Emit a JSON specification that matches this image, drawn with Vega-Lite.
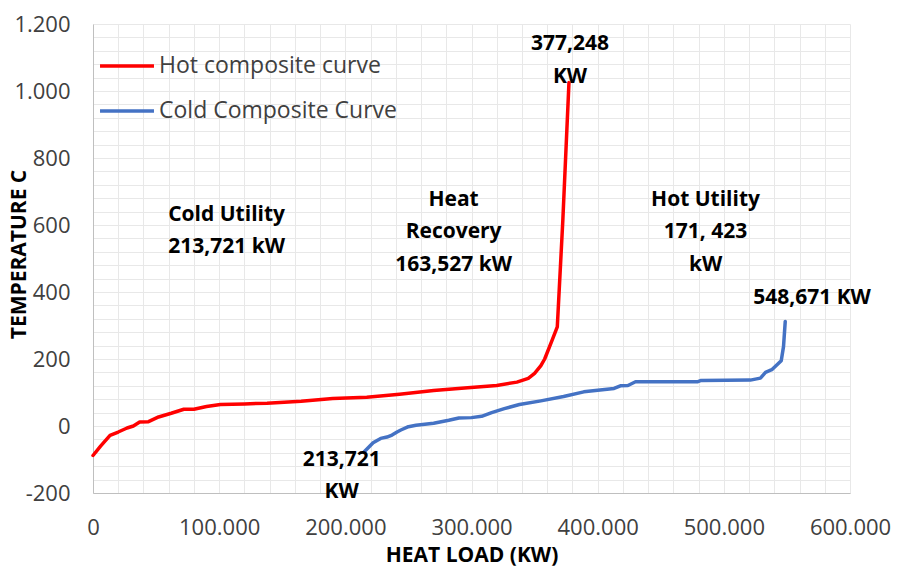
{
  "$schema": "https://vega.github.io/schema/vega-lite/v6.json",
  "width": 757,
  "height": 469,
  "autosize": {"type": "none"},
  "padding": {"left": 93, "top": 24, "right": 48, "bottom": 74},
  "background": "white",
  "config": {"view": {"stroke": null}, "font": "Open Sans"},
  "datasets": {
    "curves": [
      {"series": "Hot composite curve", "load": 0, "temp": -88},
      {"series": "Hot composite curve", "load": 6000, "temp": -60},
      {"series": "Hot composite curve", "load": 13500, "temp": -28},
      {"series": "Hot composite curve", "load": 20000, "temp": -18},
      {"series": "Hot composite curve", "load": 27000, "temp": -6},
      {"series": "Hot composite curve", "load": 32000, "temp": 0},
      {"series": "Hot composite curve", "load": 37000, "temp": 12},
      {"series": "Hot composite curve", "load": 44000, "temp": 13},
      {"series": "Hot composite curve", "load": 52000, "temp": 27},
      {"series": "Hot composite curve", "load": 62000, "temp": 38},
      {"series": "Hot composite curve", "load": 72000, "temp": 50},
      {"series": "Hot composite curve", "load": 80000, "temp": 50},
      {"series": "Hot composite curve", "load": 90000, "temp": 58},
      {"series": "Hot composite curve", "load": 101000, "temp": 64},
      {"series": "Hot composite curve", "load": 120000, "temp": 66},
      {"series": "Hot composite curve", "load": 138000, "temp": 68},
      {"series": "Hot composite curve", "load": 165000, "temp": 74},
      {"series": "Hot composite curve", "load": 190000, "temp": 82},
      {"series": "Hot composite curve", "load": 217000, "temp": 86},
      {"series": "Hot composite curve", "load": 243000, "temp": 95},
      {"series": "Hot composite curve", "load": 270000, "temp": 106},
      {"series": "Hot composite curve", "load": 297000, "temp": 114},
      {"series": "Hot composite curve", "load": 320000, "temp": 121},
      {"series": "Hot composite curve", "load": 336000, "temp": 131},
      {"series": "Hot composite curve", "load": 345000, "temp": 142},
      {"series": "Hot composite curve", "load": 350000, "temp": 157},
      {"series": "Hot composite curve", "load": 355000, "temp": 180},
      {"series": "Hot composite curve", "load": 358000, "temp": 200},
      {"series": "Hot composite curve", "load": 364000, "temp": 257},
      {"series": "Hot composite curve", "load": 368000, "temp": 296},
      {"series": "Hot composite curve", "load": 372400, "temp": 615},
      {"series": "Hot composite curve", "load": 377248, "temp": 1025},
      {"series": "Cold Composite Curve", "load": 215000, "temp": -77},
      {"series": "Cold Composite Curve", "load": 222000, "temp": -50},
      {"series": "Cold Composite Curve", "load": 228000, "temp": -37},
      {"series": "Cold Composite Curve", "load": 233000, "temp": -33},
      {"series": "Cold Composite Curve", "load": 237000, "temp": -27},
      {"series": "Cold Composite Curve", "load": 241000, "temp": -18},
      {"series": "Cold Composite Curve", "load": 244000, "temp": -12},
      {"series": "Cold Composite Curve", "load": 250000, "temp": -2},
      {"series": "Cold Composite Curve", "load": 256000, "temp": 2},
      {"series": "Cold Composite Curve", "load": 270000, "temp": 8},
      {"series": "Cold Composite Curve", "load": 282000, "temp": 17},
      {"series": "Cold Composite Curve", "load": 290000, "temp": 24},
      {"series": "Cold Composite Curve", "load": 300000, "temp": 25},
      {"series": "Cold Composite Curve", "load": 308000, "temp": 29},
      {"series": "Cold Composite Curve", "load": 316000, "temp": 40},
      {"series": "Cold Composite Curve", "load": 326000, "temp": 52},
      {"series": "Cold Composite Curve", "load": 338000, "temp": 64},
      {"series": "Cold Composite Curve", "load": 355000, "temp": 75},
      {"series": "Cold Composite Curve", "load": 373000, "temp": 88},
      {"series": "Cold Composite Curve", "load": 389000, "temp": 102},
      {"series": "Cold Composite Curve", "load": 413000, "temp": 112},
      {"series": "Cold Composite Curve", "load": 418000, "temp": 120},
      {"series": "Cold Composite Curve", "load": 424000, "temp": 121},
      {"series": "Cold Composite Curve", "load": 430000, "temp": 132},
      {"series": "Cold Composite Curve", "load": 479000, "temp": 132},
      {"series": "Cold Composite Curve", "load": 482000, "temp": 136},
      {"series": "Cold Composite Curve", "load": 521000, "temp": 137},
      {"series": "Cold Composite Curve", "load": 529000, "temp": 143},
      {"series": "Cold Composite Curve", "load": 533000, "temp": 160},
      {"series": "Cold Composite Curve", "load": 538000, "temp": 168},
      {"series": "Cold Composite Curve", "load": 545500, "temp": 195},
      {"series": "Cold Composite Curve", "load": 547300, "temp": 237},
      {"series": "Cold Composite Curve", "load": 548671, "temp": 312}
    ],
    "notes": [
      {"label": "Cold Utility\n213,721 kW", "load": 105900, "temp": 630},
      {"label": "Heat\nRecovery\n163,527 kW", "load": 285800, "temp": 675},
      {"label": "Hot Utility\n171, 423\nkW", "load": 485500, "temp": 675},
      {"label": "377,248\nKW", "load": 378100, "temp": 1140},
      {"label": "548,671 KW", "load": 569900, "temp": 381},
      {"label": "213,721\nKW", "load": 197100, "temp": -101}
    ]
  },
  "layer": [
    {
      "data": {"name": "curves"},
      "mark": {"type": "line", "strokeWidth": 3.5, "strokeCap": "round", "strokeJoin": "round"},
      "encoding": {
        "x": {
          "field": "load", "type": "quantitative",
          "scale": {"domain": [0, 600000], "nice": false, "zero": false},
          "axis": {
            "title": "HEAT LOAD (KW)",
            "values": [0,20000,40000,60000,80000,100000,120000,140000,160000,180000,200000,220000,240000,260000,280000,300000,320000,340000,360000,380000,400000,420000,440000,460000,480000,500000,520000,540000,560000,580000,600000],
            "tickCount": 100,
            "labelExpr": "datum.value % 100000 === 0 ? (datum.value === 0 ? '0' : replace(format(datum.value, ','), ',', '.')) : ''",
            "labelOverlap": false,
            "labelFlush": false,
            "ticks": false,
            "labelPadding": 24,
            "labelFontSize": 22,
            "labelColor": "#404040",
            "labelFont": "Open Sans",
            "grid": true,
            "gridColor": "#e8e8e8",
            "gridWidth": 1,
            "domainColor": "#bfbfbf",
            "titleFontSize": 21,
            "titleFontWeight": "bold",
            "titleColor": "#000000",
            "titleFont": "Open Sans",
            "titleBaseline": "middle",
            "titleY": 62
          }
        },
        "y": {
          "field": "temp", "type": "quantitative",
          "scale": {"domain": [-200, 1200], "nice": false, "zero": false},
          "axis": {
            "title": "TEMPERATURE C",
            "values": [-200,-160,-120,-80,-40,0,40,80,120,160,200,240,280,320,360,400,440,480,520,560,600,640,680,720,760,800,840,880,920,960,1000,1040,1080,1120,1160,1200],
            "tickCount": 100,
            "labelExpr": "datum.value % 200 === 0 ? (datum.value < 0 ? '-' + format(-datum.value, 'd') : replace(format(datum.value, ','), ',', '.')) : ''",
            "labelOverlap": false,
            "ticks": false,
            "labelPadding": 23,
            "labelFontSize": 22,
            "labelColor": "#404040",
            "labelFont": "Open Sans",
            "grid": true,
            "gridColor": "#e8e8e8",
            "gridWidth": 1,
            "domainColor": "#bfbfbf",
            "titleFontSize": 21,
            "titleFontWeight": "bold",
            "titleColor": "#000000",
            "titleFont": "Open Sans",
            "titleBaseline": "middle",
            "titleX": -74,
            "titleY": 230
          }
        },
        "color": {
          "field": "series", "type": "nominal",
          "scale": {"domain": ["Hot composite curve", "Cold Composite Curve"], "range": ["#ff0000", "#4472c4"]},
          "legend": {
            "title": null,
            "orient": "none",
            "legendX": 21,
            "legendY": 29,
            "padding": 0,
            "symbolType": "M-2.5,0H2.5",
            "symbolSize": 466,
            "symbolStrokeWidth": 3.5,
            "labelOffset": 19,
            "rowPadding": 20,
            "labelFontSize": 23,
            "labelColor": "#404040",
            "labelFont": "Open Sans",
            "labelLimit": 400
          }
        }
      }
    },
    {
      "data": {"name": "notes"},
      "mark": {"type": "text", "fontWeight": "bold", "fontSize": 21, "font": "Open Sans", "lineBreak": "\n", "lineHeight": 32.5, "align": "center", "baseline": "middle", "color": "#000000"},
      "encoding": {
        "x": {"field": "load", "type": "quantitative"},
        "y": {"field": "temp", "type": "quantitative"},
        "text": {"field": "label", "type": "nominal"}
      }
    }
  ]
}
